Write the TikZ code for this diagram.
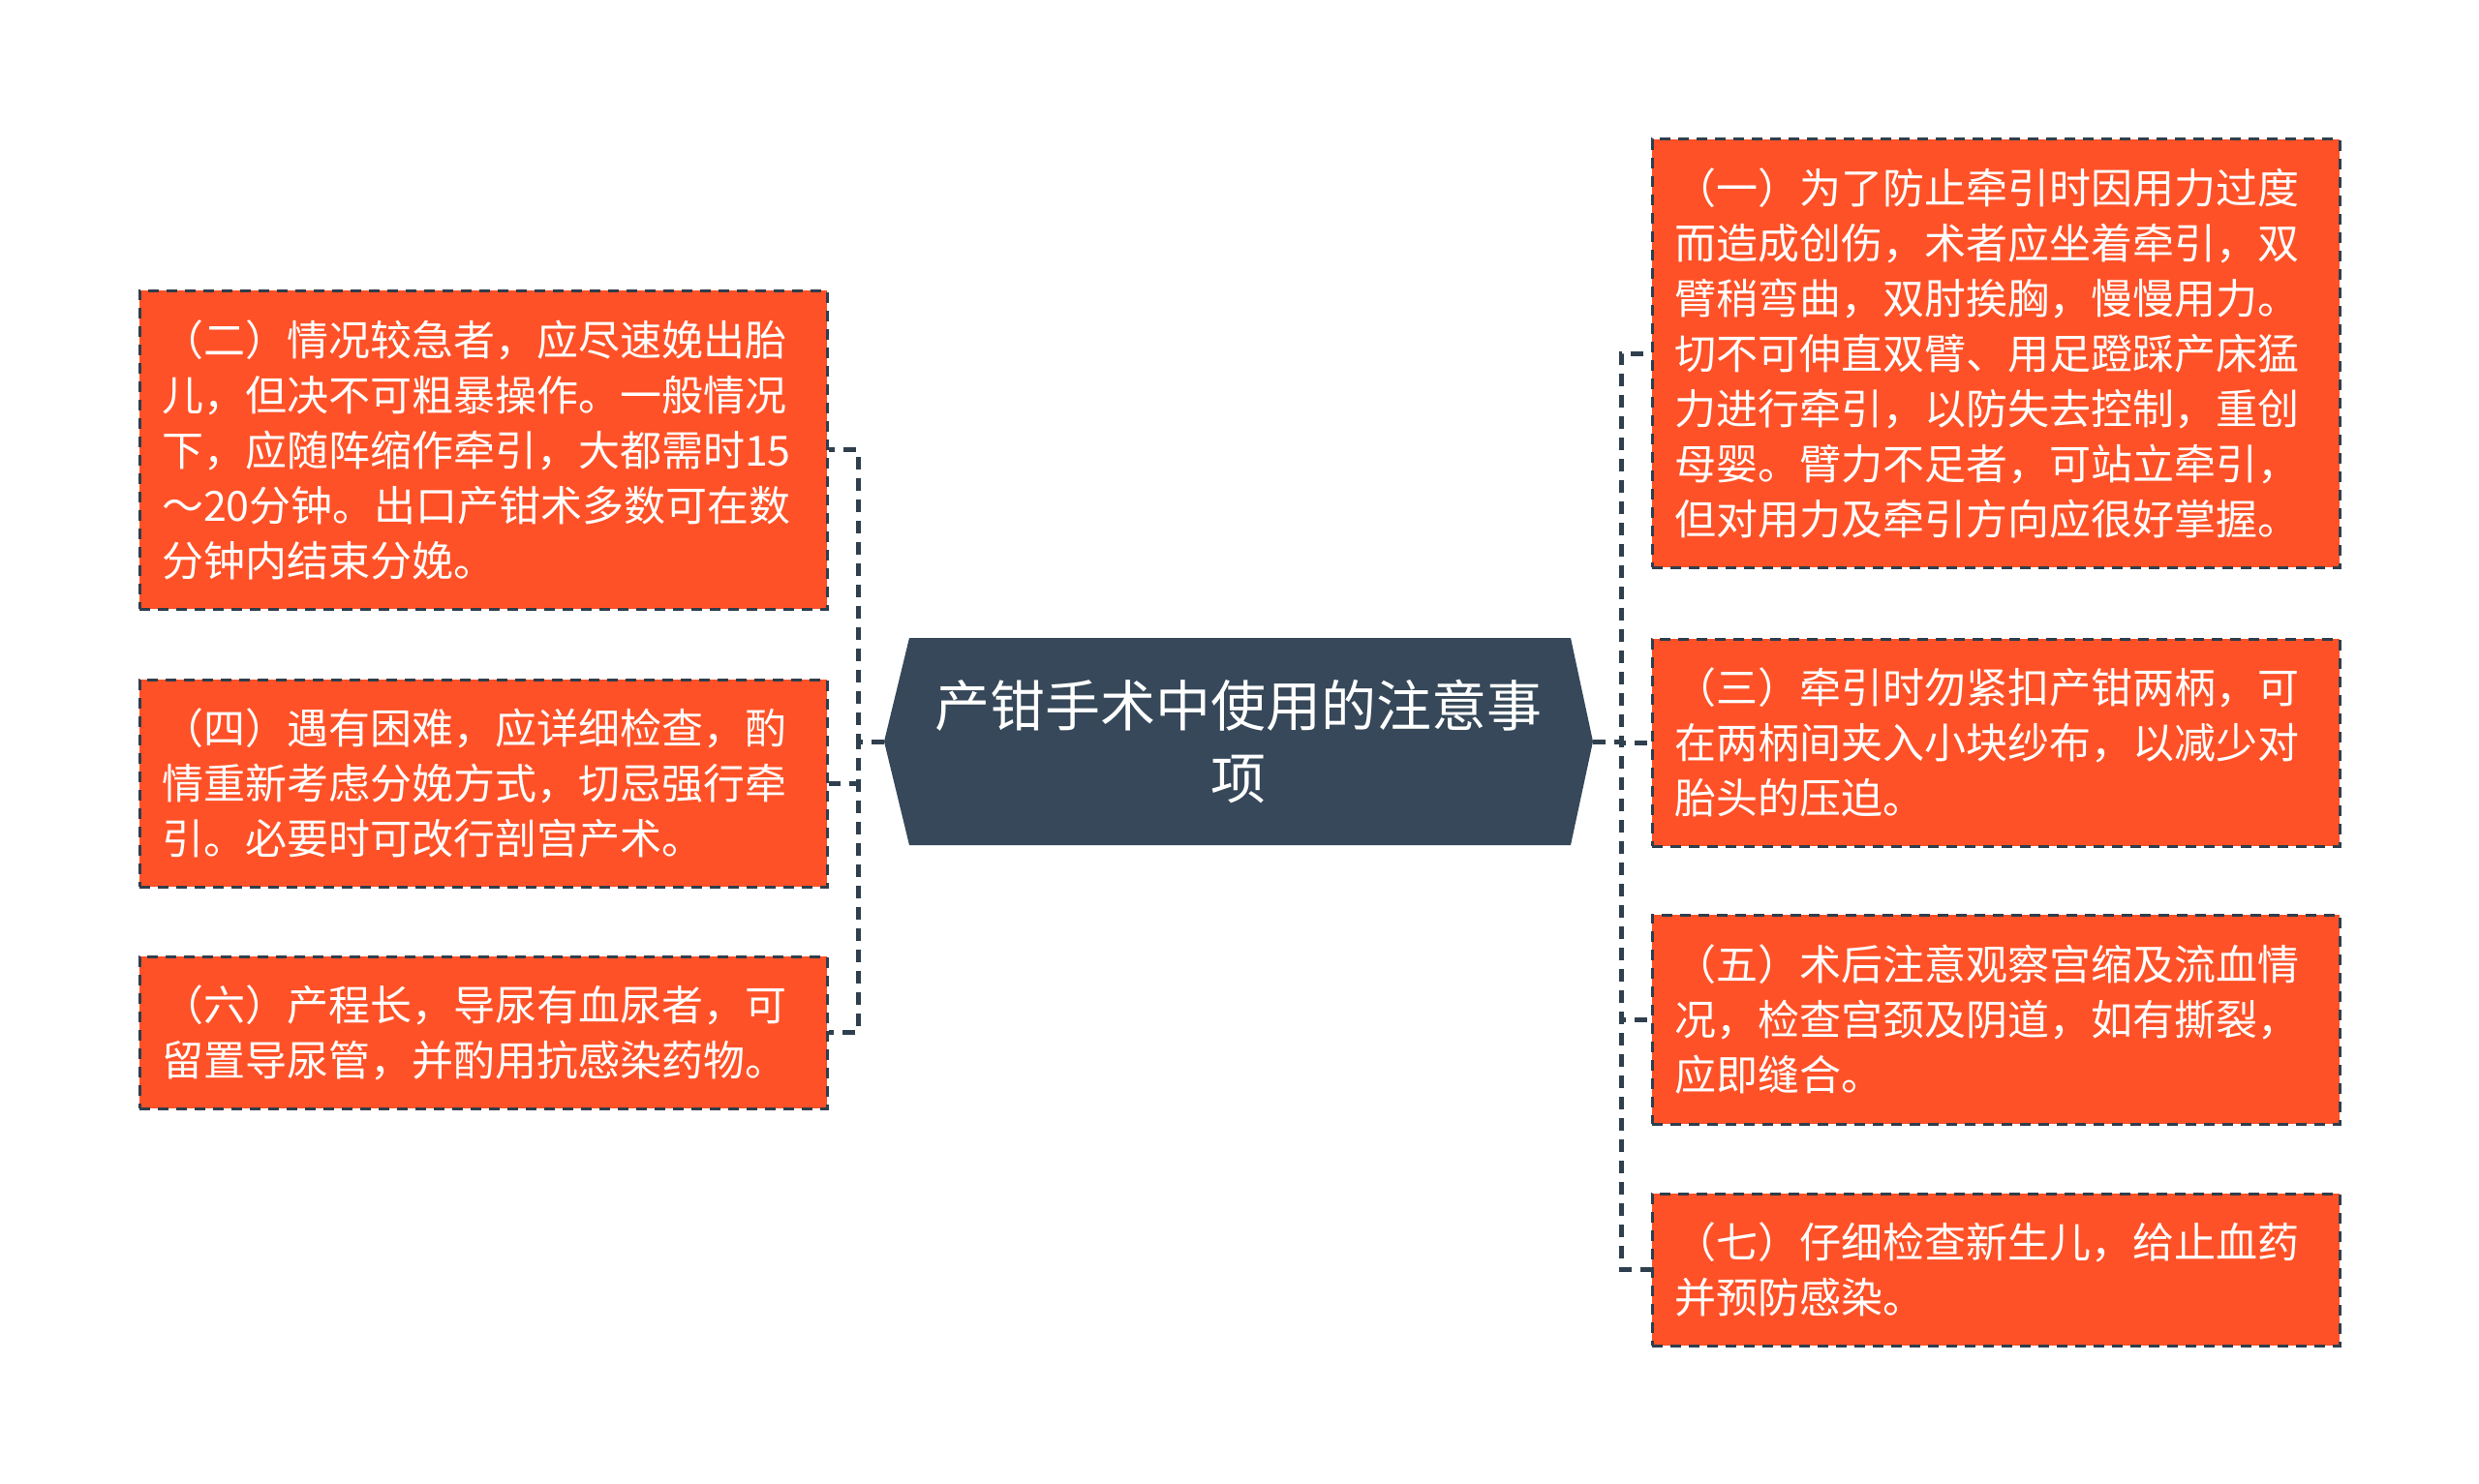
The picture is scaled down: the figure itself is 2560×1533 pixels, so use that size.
\documentclass[tikz,border=0pt]{standalone}
\usepackage{fontspec}
\newfontfamily\cjk{Noto Sans CJK SC}
\usetikzlibrary{calc}
\definecolor{boxfill}{HTML}{FF5127}
\definecolor{boxline}{HTML}{2F3E4C}
\definecolor{hubfill}{HTML}{364859}
\definecolor{connc}{HTML}{2F3F4E}
\tikzset{
  leaf/.style={draw=boxline, line width=3pt, dash pattern=on 11pt off 8pt,
    fill=boxfill, text=white, font=\cjk\fontsize{43}{57}\selectfont,
    text width=664pt, align=left, inner xsep=23pt, inner ysep=0pt},
  hubtext/.style={text=white, font=\cjk\fontsize{57}{75}\selectfont, align=center,
    minimum width=732pt, minimum height=214pt, inner sep=0pt},
  link/.style={draw=connc, line width=5pt, dash pattern=on 13pt off 9pt}
}
\begin{document}
\begin{tikzpicture}[x=1pt,y=-1pt]
\useasboundingbox (0,0) rectangle (2560,1533);
\fill[white] (0,0) rectangle (2560,1533);
% hub
\fill[hubfill] (939,659) -- (1622,659) -- (1645,766) -- (1622,873) -- (939,873) -- (913,766) -- cycle;
\node[hubtext] (c) at (1279,766) {产钳手术中使用的注意事\\项};
% left leaves
\node[leaf, minimum height=329pt] (b2) at (499,464.5) {（二）情况较急者，应尽速娩出胎\\儿，但决不可粗暴操作。一般情况\\下，应随阵缩作牵引，大都需时15\\～20分钟。出口产钳术多数可在数\\分钟内结束分娩。};
\node[leaf, minimum height=214pt] (b4) at (499,809) {（四）遇有困难，应详细检查，酌\\情重新考虑分娩方式，切忌强行牵\\引。必要时可改行剖宫产术。};
\node[leaf, minimum height=157pt] (b6) at (499,1066.5) {（六）产程长，导尿有血尿者，可\\留置导尿管，并酌用抗感染药物。};
% right leaves
\node[leaf, minimum height=442pt] (b1) at (2061,365) {（一）为了防止牵引时因用力过度\\而造成创伤，术者应坐着牵引，双\\臂稍弯曲，双肘挨胸，慢慢用力。\\切不可伸直双臂、用足蹬踩产床猛\\力进行牵引，以防失去控制，重创\\母婴。臂力不足者，可站立牵引，\\但对用力及牵引方向应很好掌握。};
\node[leaf, minimum height=214pt] (b3) at (2061,767) {（三）牵引时勿紧扣产钳两柄，可\\在两柄间夹入小块纱布，以减少对\\胎头的压迫。};
\node[leaf, minimum height=216pt] (b5) at (2061,1053) {（五）术后注意观察宫缩及流血情\\况，检查宫颈及阴道，如有撕裂，\\应即缝合。};
\node[leaf, minimum height=157pt] (b7) at (2061,1311.5) {（七）仔细检查新生儿，给止血药\\并预防感染。};
% trunks
\coordinate (lt) at (886,766);
\coordinate (rt) at (1674,766);
\draw[link] (c.west) -- (lt) |- (b2.east);
\draw[link] (c.west) -- (lt) |- (b4.east);
\draw[link] (c.west) -- (lt) |- (b6.east);
\draw[link] (c.east) -- (rt) |- (b1.west);
\draw[link] (c.east) -- (rt) |- (b3.west);
\draw[link] (c.east) -- (rt) |- (b5.west);
\draw[link] (c.east) -- (rt) |- (b7.west);
\end{tikzpicture}
\end{document}
